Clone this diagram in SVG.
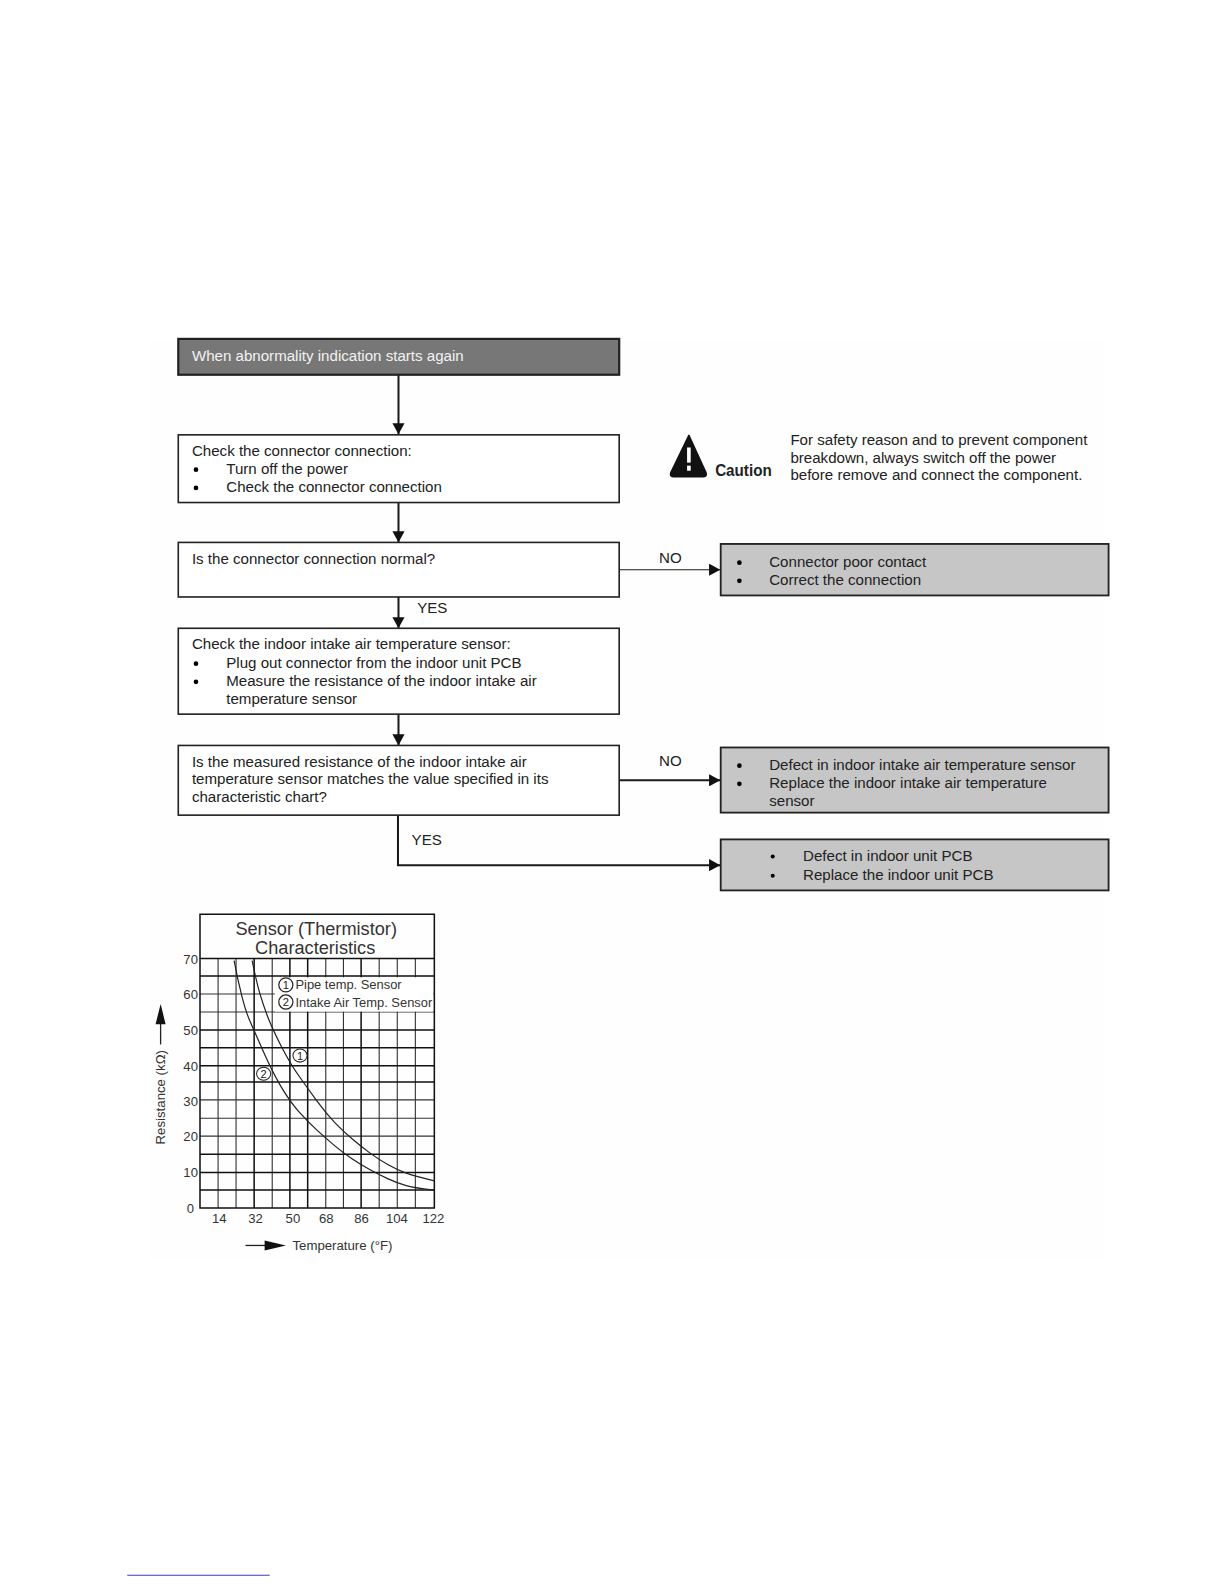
<svg xmlns="http://www.w3.org/2000/svg" width="1224" height="1584" viewBox="0 0 1224 1584">
<style>
text{font-family:"Liberation Sans",Arial,sans-serif;font-size:14.950px;fill:#222}
.box{fill:#fff;stroke:#222;stroke-width:1.6}
.dark{fill:#777;stroke:#222;stroke-width:2.2}
.grey{fill:#c6c6c6;stroke:#222;stroke-width:1.8}
.c{fill:none;stroke:#1a1a1a;stroke-width:2}
.g{stroke:#333;stroke-width:1.1;fill:none}
.g2{stroke:#111;stroke-width:1.5;fill:none}
.t{font-size:13px;fill:#333}
.m{text-anchor:middle}
.cv{fill:none;stroke:#222;stroke-width:1.2}
</style>
<defs>
<marker id="ah" markerUnits="userSpaceOnUse" markerWidth="12" markerHeight="12" refX="11" refY="6" orient="auto"><path d="M0 0L11 6L0 12Z" fill="#111"/></marker>
</defs>
<rect width="1224" height="1584" fill="#fff"/>
<rect x="150" y="340" width="953" height="920" fill="#fefefe"/>
<g transform="scale(1.0101)">
<g id="connectors">
<path class="c" d="M394.500 371V430" marker-end="url(#ah)"/>
<path class="c" d="M394.500 497V537" marker-end="url(#ah)"/>
<path class="c" d="M394.500 591V622" marker-end="url(#ah)"/>
<path class="c" d="M394.500 707V738" marker-end="url(#ah)"/>
<path class="c" style="stroke-width:1.100" d="M613 564H713" marker-end="url(#ah)"/>
<path class="c" d="M613 772.500H713" marker-end="url(#ah)"/>
<path class="c" d="M394 807V856.500H713" marker-end="url(#ah)"/>
<text x="652.500" y="557">NO</text>
<text x="652.500" y="758">NO</text>
<text x="413" y="607">YES</text>
<text x="407.500" y="836.500">YES</text>
</g>
<g id="start"><rect class="dark" x="176.500" y="335.500" width="436.500" height="35.500"/><text x="190" y="357" style="fill:#f2f2f2">When abnormality indication starts again</text></g>
<g id="check-connector"><rect class="box" x="176.500" y="430.500" width="436.500" height="67"/><text x="190" y="451">Check the connector connection:</text><circle cx="194" cy="465" r="2.300"/><text x="224" y="469">Turn off the power</text><circle cx="194" cy="483" r="2.300"/><text x="224" y="487.500">Check the connector connection</text></g>
<g id="connector-normal"><rect class="box" x="176.500" y="537" width="436.500" height="54"/><text x="190" y="558">Is the connector connection normal?</text></g>
<g id="check-sensor"><rect class="box" x="176.500" y="622" width="436.500" height="85"/><text x="190" y="643">Check the indoor intake air temperature sensor:</text><circle cx="194" cy="657" r="2.300"/><text x="224" y="661">Plug out connector from the indoor unit PCB</text><circle cx="194" cy="675" r="2.300"/><text x="224" y="679">Measure the resistance of the indoor intake air</text><text x="224" y="696.500">temperature sensor</text></g>
<g id="resistance-match"><rect class="box" x="176.500" y="738" width="436.500" height="69"/><text x="190" y="759">Is the measured resistance of the indoor intake air</text><text x="190" y="776.500">temperature sensor matches the value specified in its</text><text x="190" y="793.500">characteristic chart?</text></g>
<g id="poor-contact"><rect class="grey" x="713.500" y="538.500" width="384" height="51"/><circle cx="732" cy="557" r="2.300"/><text x="761.500" y="561">Connector poor contact</text><circle cx="732" cy="575" r="2.300"/><text x="761.500" y="579">Correct the connection</text></g>
<g id="defect-sensor"><rect class="grey" x="713.500" y="740" width="384" height="64.500"/><circle cx="732" cy="758" r="2.300"/><text x="761.500" y="762">Defect in indoor intake air temperature sensor</text><circle cx="732" cy="776" r="2.300"/><text x="761.500" y="780">Replace the indoor intake air temperature</text><text x="761.500" y="797.500">sensor</text></g>
<g id="defect-pcb"><rect class="grey" x="713.500" y="831" width="384" height="50.500"/><circle cx="765" cy="848" r="2"/><text x="795" y="852.500">Defect in indoor unit PCB</text><circle cx="765" cy="867" r="2"/><text x="795" y="871">Replace the indoor unit PCB</text></g>
<g id="caution">
<path d="M682 431L699 468Q700 472 696 472H667Q663 472 664 468Z" fill="#111" stroke="#111" stroke-width="1.500" stroke-linejoin="round"/>
<rect x="680.200" y="443" width="3.600" height="15" fill="#fff"/><rect x="680.200" y="461" width="3.600" height="5" fill="#fff"/>
<text x="708" y="471" style="font-weight:bold;font-size:15.500px;fill:#222" textLength="56" lengthAdjust="spacingAndGlyphs">Caution</text>
<text x="782.500" y="440.500">For safety reason and to prevent component</text>
<text x="782.500" y="458">breakdown, always switch off the power</text>
<text x="782.500" y="475">before remove and connect the component.</text>
</g>
<g id="chart">
<path class="g" d="M215.900 949V1196M233.700 949V1196M269.500 949V1196M322.500 949V1196M340 949V1196M375.400 949V1196M393.300 949V1196M411.200 949V1196"/>
<path class="g" d="M198 984.100H430M198 1001.900H430M198 1088.900H430M198 1107H430M198 1124.800H430"/>
<path class="g2" d="M198 948.800H430M198 966.300H430M198 1019.700H430M198 1037.200H430M198 1055H430M198 1071.100H430M198 1142.600H430M198 1160.800H430M198 1178.200H430"/>
<path class="g2" d="M251.600 949V1196M287 949V1196M304.600 949V1196M357.500 949V1196"/>
<rect x="272" y="967.500" width="157" height="34" fill="#fff"/>
<path class="g2" d="M198 905H430V1196H198Z"/>
<path class="cv" d="M249.600 951Q253.900 971.900 257.200 983.500Q260.600 995 265 1006.500Q269.500 1018 278.200 1035.300Q287 1052.700 295.800 1065Q304.600 1077.400 313.500 1089.700Q322.500 1102 331.200 1111.100Q340 1120.200 348.800 1127.600Q357.500 1135 366.400 1141.600Q375.400 1148.200 384.300 1153.100Q393.300 1158.100 402.200 1161.400Q411.200 1164.700 430 1169"/>
<path class="cv" d="M231.800 951Q235 968.600 239.200 985.100Q243.300 1001.600 247.700 1011.500Q252 1021.300 260.700 1041.100Q269.500 1061 278.200 1075.800Q287 1090.600 295.800 1100.500Q304.600 1110.300 313.500 1118.600Q322.500 1126.800 331.200 1134.200Q340 1141.600 348.800 1147.400Q357.500 1153.200 366.400 1158.100Q375.400 1163 384.300 1167.100Q393.300 1171.300 402.200 1173.800Q411.200 1176.300 430 1178.200"/>
<circle cx="283" cy="975" r="7" fill="none" stroke="#222" stroke-width="1.200"/><text x="283" y="979" class="m" style="font-size:11px">1</text>
<circle cx="283" cy="992" r="7" fill="none" stroke="#222" stroke-width="1.200"/><text x="283" y="996" class="m" style="font-size:11px">2</text>
<text x="292.500" y="979.500" style="font-size:12.800px;fill:#333">Pipe temp. Sensor</text>
<text x="292.500" y="997" style="font-size:12.800px;fill:#333">Intake Air Temp. Sensor</text>
<ellipse cx="297" cy="1045" rx="7" ry="6.500" fill="#fff" stroke="#222" stroke-width="1"/><text x="297" y="1049" class="m" style="font-size:11px">1</text>
<ellipse cx="261" cy="1063" rx="7" ry="6.500" fill="#fff" stroke="#222" stroke-width="1"/><text x="261" y="1067" class="m" style="font-size:11px">2</text>
<text x="313" y="926" class="m" style="font-size:18px;fill:#333">Sensor (Thermistor)</text>
<text x="312" y="944" class="m" style="font-size:18px;fill:#333">Characteristics</text>
<text x="196" y="954" class="t" text-anchor="end">70</text><text x="196" y="989.500" class="t" text-anchor="end">60</text><text x="196" y="1024.500" class="t" text-anchor="end">50</text><text x="196" y="1060" class="t" text-anchor="end">40</text><text x="196" y="1095" class="t" text-anchor="end">30</text><text x="196" y="1130" class="t" text-anchor="end">20</text><text x="196" y="1165.500" class="t" text-anchor="end">10</text><text x="192" y="1201" class="t" text-anchor="end">0</text>
<text x="217" y="1210.500" class="t m">14</text><text x="253" y="1210.500" class="t m">32</text><text x="290" y="1210.500" class="t m">50</text><text x="323" y="1210.500" class="t m">68</text><text x="358" y="1210.500" class="t m">86</text><text x="393" y="1210.500" class="t m">104</text><text x="429" y="1210.500" class="t m">122</text>
<text x="289.500" y="1237.500" style="font-size:13.100px;fill:#333">Temperature (°F)</text>
<path d="M243 1233H264" stroke="#222" stroke-width="1.300"/><path d="M262 1228L283 1233L262 1238Z" fill="#111"/>
<text transform="translate(163 1133) rotate(-90)" style="font-size:13.100px;fill:#333">Resistance (kΩ)</text>
<path d="M159 1034V1012" stroke="#222" stroke-width="1.300"/><path d="M154 1014L159 994L164 1014Z" fill="#111"/>
</g>
<path id="footer-rule" d="M126 1559.500H267" stroke="#3344aa" stroke-width="1"/>
</g>
</svg>
